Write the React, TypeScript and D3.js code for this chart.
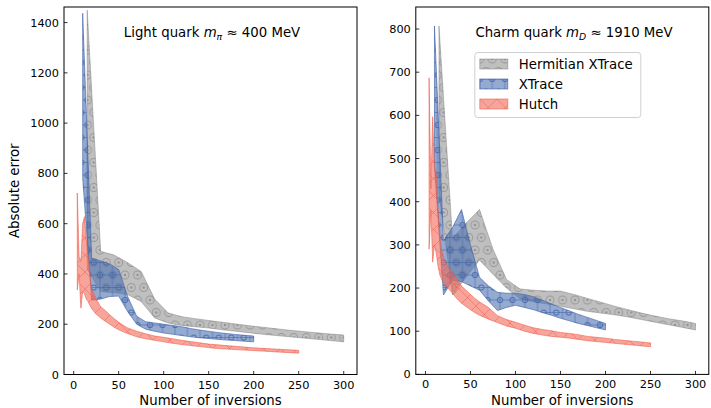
import * as d3 from 'd3'

// Hermitian XTrace: x = 15..300, XTrace: x = 10..200, Hutch: x = 4..250
const HERM_X = [15, 30, 45, 60, 75, 90, 105, 120, 135, 150, 165, 180, 195, 210, 225, 240, 255, 270, 285, 300]
const XT_X = [10, 20, 30, 40, 50, 60, 70, 80, 90, 100, 110, 120, 130, 140, 150, 160, 170, 180, 190, 200]
const HUTCH_X = [4, 6, 8, 10, 12, 14, 16, 18, 20, 25, 30, 35, 40, 45, 50, 55, 60, 70, 80, 90, 100, 110, 120, 130, 140, 150, 160, 170, 180, 190, 200, 210, 220, 230, 240, 250]

// Light quark panel
const LIGHT_HERM_LO = [420, 330, 325, 318, 290, 225, 205, 195, 190, 185, 178, 172, 166, 160, 155, 150, 145, 140, 135, 130]
const LIGHT_HERM_HI = [1450, 490, 475, 445, 410, 300, 245, 230, 222, 215, 208, 201, 194, 188, 182, 176, 171, 166, 161, 157]
const LIGHT_XT_LO = [780, 296, 300, 310, 312, 250, 200, 180, 172, 165, 160, 155, 150, 146, 143, 140, 137, 135, 132, 130]
const LIGHT_XT_HI = [1437, 462, 452, 440, 418, 310, 232, 210, 205, 200, 195, 190, 183, 177, 172, 167, 163, 159, 156, 153]
const LIGHT_HUTCH_LO = [336, 400, 264, 330, 320, 300, 290, 275, 262, 240, 225, 212, 200, 188, 178, 170, 163, 150, 142, 136, 130, 124, 119, 115, 111, 107, 103, 101, 99, 97, 95, 93, 91, 89, 87, 85]
const LIGHT_HUTCH_HI = [722, 470, 450, 600, 628, 540, 470, 400, 340, 300, 270, 255, 238, 222, 208, 196, 185, 172, 162, 153, 148, 142, 136, 131, 126, 121, 118, 115, 112, 109, 106, 104, 102, 100, 98, 96]

// Charm quark panel
const CHARM_HERM_LO = [420, 184, 225, 265, 232, 200, 175, 168, 163, 158, 152, 146, 142, 138, 133, 127, 121, 115, 109, 103]
const CHARM_HERM_HI = [807, 315, 350, 382, 290, 220, 198, 195, 193, 193, 185, 176, 167, 158, 150, 142, 135, 129, 124, 118]
const CHARM_XT_LO = [480, 184, 218, 215, 205, 195, 170, 148, 155, 160, 155, 150, 143, 137, 130, 124, 118, 113, 108, 103]
const CHARM_XT_HI = [807, 310, 340, 382, 300, 225, 205, 190, 188, 188, 185, 180, 172, 163, 155, 147, 139, 132, 125, 118]
const CHARM_HUTCH_LO = [290, 380, 260, 300, 280, 250, 230, 220, 212, 200, 188, 175, 165, 157, 150, 143, 137, 128, 120, 112, 107, 100, 95, 91, 88, 86, 84, 81, 78, 76, 74, 72, 70, 68, 66, 64]
const CHARM_HUTCH_HI = [687, 430, 597, 480, 466, 380, 320, 290, 270, 250, 236, 220, 205, 195, 185, 176, 168, 155, 136, 127, 121, 114, 108, 104, 101, 97, 95, 92, 88, 86, 84, 81, 79, 77, 75, 73]

const X_TICKS = [0, 50, 100, 150, 200, 250, 300]
const LIGHT_Y_TICKS = [0, 200, 400, 600, 800, 1000, 1200, 1400]
const CHARM_Y_TICKS = [0, 100, 200, 300, 400, 500, 600, 700, 800]
const LEGEND = ['Hermitian XTrace', 'XTrace', 'Hutch']

const FONT = 'DejaVu Sans, Liberation Sans, sans-serif'

const STYLES = [
  { fill: 'rgba(128,128,128,0.5)', edge: 'rgba(128,128,128,0.6)', pattern: 'hatch-herm' },
  { fill: 'rgba(76,114,176,0.6)', edge: 'rgba(60,95,165,0.75)', pattern: 'hatch-xt' },
  { fill: 'rgba(242,105,88,0.6)', edge: 'rgba(238,90,72,0.7)', pattern: 'hatch-hutch' },
]

type Band = { x: number[]; lo: number[]; hi: number[] }

function Panel({ id, left, right, top, bottom, yMax, yTicks, bands, title, sub, titleX, showYLabel, showLegend }: {
  id: string; left: number; right: number; top: number; bottom: number; yMax: number; yTicks: number[]
  bands: Band[]; title: string; sub: string; titleX: number; showYLabel: boolean; showLegend: boolean
}) {
  const x = d3.scaleLinear().domain([-10.75, 314.75]).range([left, right])
  const y = d3.scaleLinear().domain([0, yMax]).range([bottom, top])
  const area = d3.area<[number, number, number]>()
    .x(d => x(d[0]))
    .y0(d => y(d[1]))
    .y1(d => y(d[2]))
  const cx = (left + right) / 2
  const [t1, t2] = title.split('|')

  return (
    <g>
      <clipPath id={`clip-${id}`}>
        <rect x={left} y={top} width={right - left} height={bottom - top} />
      </clipPath>
      <g clipPath={`url(#clip-${id})`}>
        {bands.map((b, i) => {
          const pts = b.x.map((v, j) => [v, b.lo[j], b.hi[j]] as [number, number, number])
          const d = area(pts) || ''
          const s = STYLES[i]
          return (
            <g key={i}>
              <path d={d} fill={s.fill} />
              <path d={d} fill={`url(#${s.pattern})`} stroke={s.edge} strokeWidth={0.8} />
            </g>
          )
        })}
      </g>
      <rect x={left} y={top} width={right - left} height={bottom - top} fill="none" stroke="#000" strokeWidth={1} />
      {X_TICKS.map(t => (
        <g key={t}>
          <line x1={x(t)} x2={x(t)} y1={bottom} y2={bottom - 3.5} stroke="#000" strokeWidth={0.8} />
          <text x={x(t)} y={bottom + 14} textAnchor="middle" fontSize={11.3} fontFamily={FONT}>{t}</text>
        </g>
      ))}
      {yTicks.map(t => (
        <g key={t}>
          <line x1={left} x2={left + 3.5} y1={y(t)} y2={y(t)} stroke="#000" strokeWidth={0.8} />
          <text x={left - 5} y={y(t) + 4} textAnchor="end" fontSize={11.3} fontFamily={FONT}>{t}</text>
        </g>
      ))}
      <text x={cx} y={bottom + 30.5} textAnchor="middle" fontSize={13.3} fontFamily={FONT}>Number of inversions</text>
      {showYLabel && (
        <text transform={`translate(19,${(top + bottom) / 2}) rotate(-90)`} textAnchor="middle" fontSize={13.3} fontFamily={FONT}>Absolute error</text>
      )}
      <text x={titleX} y={top + 29.5} textAnchor="middle" fontSize={13.3} fontFamily={FONT}>
        {t1}<tspan fontStyle="italic">m</tspan><tspan fontSize={9.3} fontStyle="italic" dy={3}>{sub}</tspan><tspan dy={-3}>{t2}</tspan>
      </text>
      {showLegend && (
        <g transform={`translate(${left + 59},${top + 45.5})`}>
          <rect x={0} y={0} width={166} height={65} rx={3} fill="rgba(255,255,255,0.8)" stroke="#d0d0d0" strokeWidth={1} />
          {LEGEND.map((name, i) => {
            const s = STYLES[i]
            return (
              <g key={name} transform={`translate(5,${6.5 + i * 20})`}>
                <rect x={0} y={0} width={28} height={10} fill={s.fill} />
                <rect x={0} y={0} width={28} height={10} fill={`url(#${s.pattern})`} stroke={s.edge} strokeWidth={0.8} />
                <text x={39} y={9.5} fontSize={13.3} fontFamily={FONT}>{name}</text>
              </g>
            )
          })}
        </g>
      )}
    </g>
  )
}

export default function App() {
  const s = 12.5
  const h = 17
  return (
    <div style={{ position: 'absolute', left: 0, top: 0 }}>
      <svg width={711} height={408} viewBox="0 0 711 408" style={{ display: 'block', background: '#fff' }}>
        <defs>
          <pattern id="hatch-herm" patternUnits="userSpaceOnUse" width={s} height={2 * s}>
            {[[0, 0], [s, 0], [0, 2 * s], [s, 2 * s], [s / 2, s]].map(([a, b], i) => (
              <g key={i}>
                <circle cx={a} cy={b} r={4} fill="none" stroke="rgba(128,128,128,0.6)" strokeWidth={1} />
                <circle cx={a} cy={b} r={1.2} fill="rgba(128,128,128,0.7)" />
              </g>
            ))}
          </pattern>
          <pattern id="hatch-xt" patternUnits="userSpaceOnUse" width={s} height={2 * s}>
            <line x1={0} x2={0} y1={0} y2={2 * s} stroke="rgba(60,95,165,0.55)" strokeWidth={0.9} />
            <line x1={s} x2={s} y1={0} y2={2 * s} stroke="rgba(60,95,165,0.55)" strokeWidth={0.9} />
            <line x1={0} x2={s} y1={0} y2={0} stroke="rgba(60,95,165,0.55)" strokeWidth={0.9} />
            <line x1={0} x2={s} y1={s} y2={s} stroke="rgba(60,95,165,0.55)" strokeWidth={0.9} />
            <line x1={0} x2={s} y1={2 * s} y2={2 * s} stroke="rgba(60,95,165,0.55)" strokeWidth={0.9} />
            {[[0, 0], [s, 0], [0, 2 * s], [s, 2 * s], [s / 2, s]].map(([a, b], i) => (
              <circle key={i} cx={a} cy={b} r={2.6} fill="none" stroke="rgba(60,95,165,0.75)" strokeWidth={1} />
            ))}
          </pattern>
          <pattern id="hatch-hutch" patternUnits="userSpaceOnUse" width={h} height={h}>
            <line x1={0} y1={0} x2={h} y2={h} stroke="rgba(238,85,68,0.5)" strokeWidth={0.9} />
            <line x1={0} y1={h} x2={h} y2={0} stroke="rgba(238,85,68,0.5)" strokeWidth={0.9} />
          </pattern>
        </defs>
        <Panel
          id="light" left={64} right={357} top={7} bottom={374.5} yMax={1462} yTicks={LIGHT_Y_TICKS}
          bands={[
            { x: HERM_X, lo: LIGHT_HERM_LO, hi: LIGHT_HERM_HI },
            { x: XT_X, lo: LIGHT_XT_LO, hi: LIGHT_XT_HI },
            { x: HUTCH_X, lo: LIGHT_HUTCH_LO, hi: LIGHT_HUTCH_HI },
          ]}
          title="Light quark | ≈ 400 MeV" sub="π" titleX={212} showYLabel={true} showLegend={false}
        />
        <Panel
          id="charm" left={415.8} right={708.8} top={7} bottom={374.4} yMax={851} yTicks={CHARM_Y_TICKS}
          bands={[
            { x: HERM_X, lo: CHARM_HERM_LO, hi: CHARM_HERM_HI },
            { x: XT_X, lo: CHARM_XT_LO, hi: CHARM_XT_HI },
            { x: HUTCH_X, lo: CHARM_HUTCH_LO, hi: CHARM_HUTCH_HI },
          ]}
          title="Charm quark | ≈ 1910 MeV" sub="D" titleX={574} showYLabel={false} showLegend={true}
        />
      </svg>
    </div>
  )
}
